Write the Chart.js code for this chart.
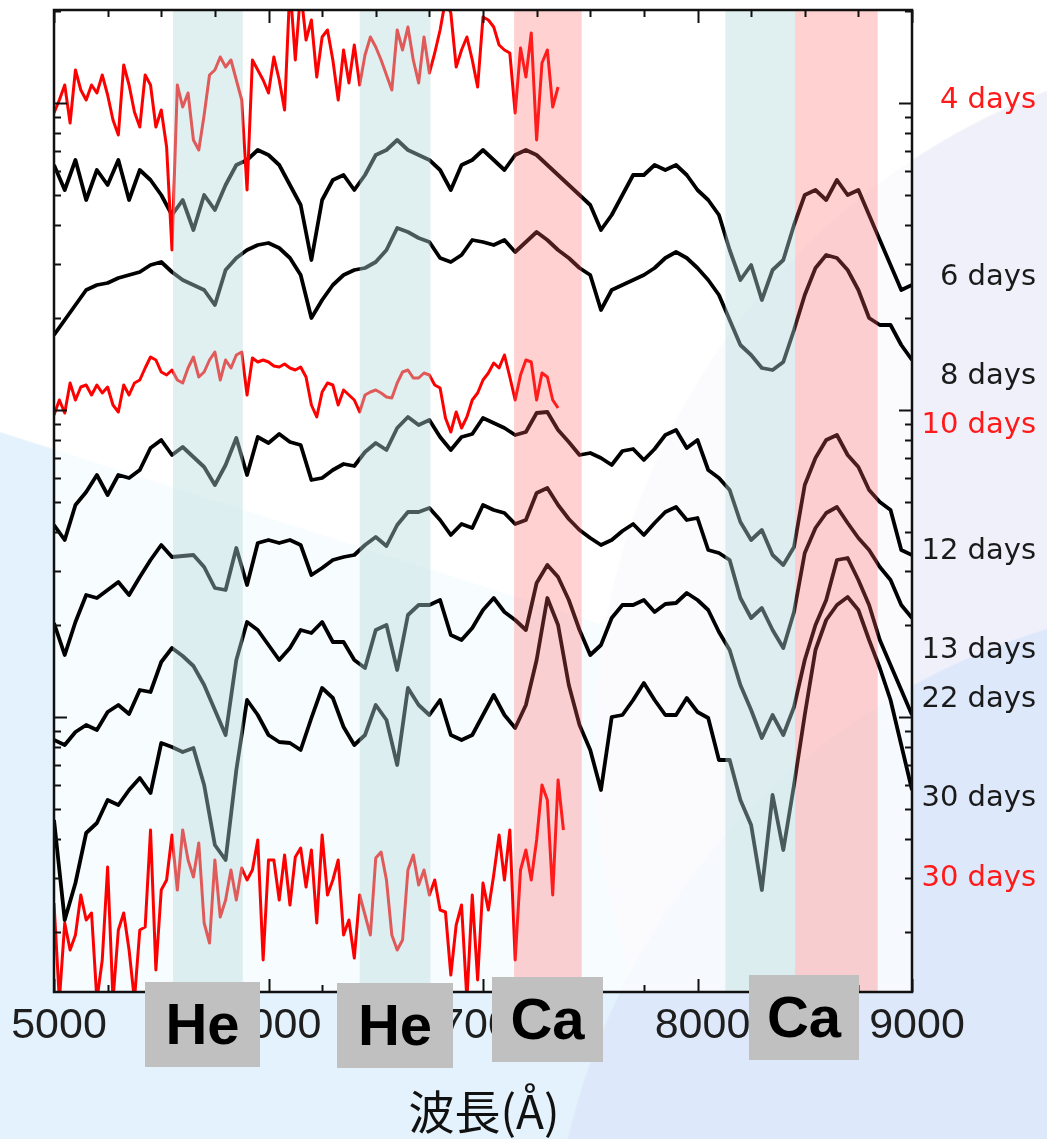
<!DOCTYPE html>
<html>
<head>
<meta charset="utf-8">
<script src="https://cdn.jsdelivr.net/npm/chart.js@4.4.1/dist/chart.umd.min.js"></script>
<style>
html,body{margin:0;padding:0;}
body{width:1047px;height:1139px;overflow:hidden;
background:
 radial-gradient(circle at 1250px 1300px, #dde9fa 0 700px, rgba(221,233,250,0) 702px),
 radial-gradient(circle at 1300px 750px, #f0f0fb 0 705px, rgba(240,240,251,0) 707px),
 linear-gradient(197.7deg, #ffffff 0 729px, #e3f2fc 731px);
}
canvas{display:block;}
</style>
</head>
<body>
<canvas id="myChart" width="1047" height="1139"></canvas>
<script>
// wavelength grids (Angstrom): black spectra every 50, red ones every 25
var gridStart = 5000;
var stepBlack = 50;
var stepRed = 25;

// relative flux, log scale with offsets (arbitrary units)
var day4 = [88.7,90.0,91.5,87.7,93.0,91.0,90.0,91.5,90.7,92.5,
 90.5,88.0,86.5,93.5,91.5,88.8,87.3,92.5,91.5,87.3,
 89.0,85.3,75.0,91.5,89.3,90.7,86.0,85.0,88.5,92.5,
 93.0,94.3,93.3,94.0,92.0,90.0,81.0,94.0,93.0,92.0,
 90.7,94.3,92.0,89.0,101.5,94.0,101.0,96.0,98.0,92.3,
 96.3,97.0,94.0,90.0,95.0,91.7,95.5,91.5,94.5,96.3,
 95.3,94.0,92.5,91.0,97.0,95.0,97.3,94.0,91.7,96.3,
 92.7,94.7,97.0,100.0,98.7,93.3,95.0,96.3,94.0,91.3,
 98.3,98.0,97.3,95.5,95.0,94.7,88.7,95.2,92.3,96.7,
 86.0,93.7,95.0,89.3,91.3];

var day6 = [83.5,81.0,84.0,80.0,83.0,81.5,84.0,80.0,83.0,82.0,
 80.5,78.5,80.0,77.0,80.5,79.0,81.5,83.5,84.0,85.0,
 84.5,83.5,81.5,79.5,74.0,80.0,82.0,82.5,81.0,82.5,
 84.5,85.0,86.0,85.0,84.5,84.0,83.0,81.0,83.5,84.0,
 85.0,84.0,83.0,84.5,85.0,84.5,83.5,82.5,81.5,80.5,
 79.5,77.0,78.5,80.5,82.5,82.5,83.5,83.0,83.5,82.5,
 81.0,80.0,78.5,75.0,72.0,73.5,70.0,73.0,74.0,77.5,
 80.5,81.0,80.0,82.0,80.5,81.0,78.5,76.0,73.5,71.0,
 71.5];

var day8 = [66.5,68.0,69.5,71.0,71.5,71.7,72.2,72.5,72.8,73.5,
 73.8,72.8,72.0,71.5,71.0,69.5,73.0,74.2,75.0,75.5,
 75.7,75.2,74.2,72.5,68.2,70.0,71.5,72.5,73.0,73.2,
 73.8,75.0,77.2,76.8,76.2,75.8,74.2,73.8,74.5,76.0,
 75.8,75.5,76.0,74.8,75.8,76.8,76.0,75.0,74.2,73.2,
 72.5,69.0,71.0,71.5,72.0,72.5,73.2,74.2,74.8,74.2,
 73.2,72.0,70.5,68.0,65.5,64.5,63.2,63.0,63.8,67.0,
 70.5,73.2,74.5,74.2,73.0,71.0,68.2,67.5,67.5,65.5,
 64.0];

var day10 = [58.5,60.0,58.7,61.7,60.0,61.3,61.5,60.5,61.5,60.7,
 61.3,59.5,58.8,61.5,60.5,61.7,62.0,63.2,64.3,64.0,
 62.8,62.5,63.0,62.0,61.7,63.2,64.3,62.3,62.8,64.0,
 64.8,62.0,64.0,63.2,64.5,64.8,60.5,64.2,63.8,64.0,
 63.8,63.4,63.3,63.6,63.2,63.0,63.3,62.3,59.5,58.3,
 60.8,61.7,61.5,59.5,61.0,60.5,60.0,58.8,60.5,60.8,
 61.0,60.7,60.3,60.2,61.7,62.8,63.0,62.2,62.2,62.7,
 62.5,61.5,61.2,58.2,56.8,58.8,57.2,58.3,60.0,60.7,
 62.0,62.7,63.7,63.2,64.5,62.3,60.0,62.5,64.0,63.8,
 60.0,62.7,62.3,60.0,59.2];

var day12 = [47.5,46.0,49.5,50.8,52.5,50.5,52.5,52.2,53.0,55.2,
 56.0,54.5,55.3,54.3,53.3,51.5,53.5,56.2,52.5,56.3,
 55.7,56.6,55.8,55.5,52.0,52.2,53.0,53.6,53.4,54.8,
 55.7,55.0,57.2,58.3,57.5,58.0,56.3,55.0,56.3,56.6,
 58.2,57.7,57.2,56.5,56.8,58.7,58.8,57.0,55.8,54.5,
 54.7,54.2,53.5,54.9,55.1,54.0,55.1,56.5,57.0,55.2,
 56.0,53.0,52.2,51.0,47.8,46.0,47.0,44.5,43.5,45.3,
 51.5,54.2,56.0,56.5,54.5,53.3,51.0,49.8,49.0,45.0,
 44.5];

var day13 = [37.7,34.5,37.8,40.5,40.2,41.0,41.8,40.5,42.3,44.0,
 45.5,44.3,44.4,44.5,43.3,41.2,41.0,45.2,41.5,45.7,
 46.0,45.7,46.0,45.5,42.5,43.2,44.0,44.3,44.5,45.5,
 46.3,45.4,47.5,48.8,48.8,49.2,48.0,46.5,47.6,47.2,
 49.5,49.0,48.7,47.6,48.0,50.7,51.2,49.5,48.1,47.0,
 46.2,45.5,46.0,46.9,47.6,46.5,47.7,48.8,49.3,48.0,
 48.2,45.0,44.7,44.0,40.2,38.2,39.2,37.0,35.2,38.8,
 44.7,47.2,48.7,49.3,47.7,46.2,45.0,43.3,42.0,39.5,
 38.2];

var day22 = [26.0,25.5,26.8,27.5,27.0,28.8,29.5,28.6,31.0,30.8,
 33.8,35.2,34.4,33.4,31.5,29.0,26.5,34.0,37.8,37.0,
 35.5,34.0,35.2,37.0,36.7,37.8,35.8,35.8,34.0,33.2,
 37.0,37.5,33.0,38.5,39.5,39.5,40.0,36.5,36.0,37.2,
 39.0,40.2,38.8,38.0,37.0,41.7,43.5,42.3,40.0,37.0,
 34.5,35.5,38.2,39.5,39.5,40.0,38.8,39.6,39.7,40.7,
 40.0,39.0,36.8,35.0,31.5,29.0,26.2,28.5,26.5,29.3,
 34.0,37.5,40.0,44.0,44.2,42.0,39.5,36.0,33.5,31.0,
 28.5];

var day30 = [18.0,8.0,11.7,16.7,17.7,20.0,19.5,21.0,22.2,20.7,
 25.7,25.3,24.8,25.2,21.5,15.5,14.0,23.0,30.0,28.5,
 26.5,25.8,25.7,25.0,28.2,31.2,30.2,27.3,25.5,26.5,
 29.5,28.0,23.5,31.2,29.5,28.5,30.0,26.5,26.0,26.5,
 28.5,30.5,28.5,27.2,29.5,34.0,40.2,37.5,31.5,27.5,
 25.0,21.0,28.3,28.5,30.0,31.7,30.0,28.5,28.5,30.2,
 28.8,28.2,24.0,24.0,20.0,17.5,11.0,20.5,15.0,21.5,
 28.5,35.0,38.0,39.5,40.3,39.0,36.0,33.2,30.0,25.5,
 21.0];

var day30red = [9.7,0.0,7.7,5.0,6.5,10.5,8.0,8.7,0.0,4.0,
 13.3,0.0,7.0,8.7,5.0,0.0,7.0,7.3,17.0,3.0,
 11.0,12.0,16.5,11.0,17.0,14.0,12.3,15.7,7.7,5.7,
 14.0,8.3,10.0,13.0,10.0,13.2,12.0,13.0,16.0,4.0,
 14.0,14.0,10.0,14.5,9.5,14.3,15.2,11.3,15.0,7.7,
 16.5,10.5,12.0,14.0,6.5,8.0,4.2,10.5,8.5,6.5,
 14.2,14.8,12.0,6.5,5.0,6.0,13.0,14.5,11.5,13.0,
 10.5,12.0,9.0,8.8,2.5,7.5,9.5,0.0,10.5,2.0,
 11.7,9.0,12.5,16.5,12.0,17.0,4.0,13.0,15.0,12.0,
 16.0,21.5,20.0,10.5,22.0,17.0];

var dayLabels = ['4 days','6 days','8 days','10 days','12 days','13 days','22 days','30 days','30 days'];
var labelLevel = [90.0, 72.3, 62.4, 57.5, 44.9, 35.0, 30.1, 20.2, 12.2];

// line bands: [from, to, kind]
var bands = [[5555,5880,'He'],[6425,6755,'He'],[7145,7460,'Ca'],[8130,8455,'He'],[8455,8840,'Ca']];
var bandBoxes = ['He','He','Ca','Ca'];

var xTickLabels = ['5000','6000','7000','8000','9000'];
var yDecades = [28.3, 59.0, 89.7, 120.4];

var red = '#ff0000', black = '#000000';

function pts(vals, step) {
  var out = [];
  for (let i = 0; i < vals.length; i++) out.push({x: gridStart + i*step, y: vals[i]});
  return out;
}

var series = [
  {v: day4, s: stepRed, c: red},
  {v: day6, s: stepBlack, c: black},
  {v: day8, s: stepBlack, c: black},
  {v: day10, s: stepRed, c: red},
  {v: day12, s: stepBlack, c: black},
  {v: day13, s: stepBlack, c: black},
  {v: day22, s: stepBlack, c: black},
  {v: day30, s: stepBlack, c: black},
  {v: day30red, s: stepRed, c: red}
];
var labelColors = [red, black, black, red, black, black, black, black, red];

var decor = {
  id: 'decor',
  beforeDatasetsDraw(chart) {
    const ctx = chart.ctx, a = chart.chartArea;
    ctx.save();
    ctx.fillStyle = 'rgba(255,255,255,0.72)';
    ctx.fillRect(a.left, a.top, a.right - a.left, a.bottom - a.top);
    ctx.restore();
  },
  afterDatasetsDraw(chart) {
    const ctx = chart.ctx, a = chart.chartArea;
    const x = chart.scales.x, y = chart.scales.y;
    ctx.save();
    // shaded bands, over the spectra
    bands.forEach(b => {
      const x0 = x.getPixelForValue(b[0]), x1 = x.getPixelForValue(b[1]);
      ctx.fillStyle = b[2] === 'He' ? 'rgba(180,218,218,0.41)' : 'rgba(255,96,96,0.29)';
      ctx.fillRect(x0, a.top, x1 - x0, a.bottom - a.top);
    });

    // ticks
    ctx.strokeStyle = '#111';
    ctx.lineWidth = 2;
    ctx.beginPath();
    for (let w = 5000; w <= 9000; w += 250) {
      const px = Math.round(x.getPixelForValue(w)) + 0.5;
      const len = (w % 1000 === 0) ? 13 : 7;
      ctx.moveTo(px, a.bottom); ctx.lineTo(px, a.bottom - len);
      ctx.moveTo(px, a.top); ctx.lineTo(px, a.top + len);
    }
    yDecades.forEach(d => {
      for (let k = 2; k <= 10; k++) {
        const v = d - 30.7 * (1 - Math.log10(k));
        if (v < y.min || v > y.max) continue;
        const py = Math.round(y.getPixelForValue(v)) + 0.5;
        const len = (k === 10) ? 13 : 7;
        ctx.moveTo(a.left, py); ctx.lineTo(a.left + len, py);
        ctx.moveTo(a.right, py); ctx.lineTo(a.right - len, py);
      }
    });
    ctx.stroke();

    // frame
    ctx.lineWidth = 2.5;
    ctx.strokeRect(a.left, a.top, a.right - a.left, a.bottom - a.top);

    // x tick labels
    ctx.fillStyle = '#1e1e1e';
    ctx.font = '43px "Liberation Sans", Arial, sans-serif';
    ctx.textAlign = 'center';
    ctx.textBaseline = 'middle';
    xTickLabels.forEach(t => {
      ctx.fillText(t, x.getPixelForValue(+t) + 5, 1026);
    });

    // day labels on the right
    ctx.font = '29px "DejaVu Sans", Verdana, sans-serif';
    ctx.textAlign = 'right';
    dayLabels.forEach((t, i) => {
      ctx.fillStyle = labelColors[i] === red ? '#ff1a1a' : '#1a1a1a';
      ctx.fillText(t, 1036, y.getPixelForValue(labelLevel[i]));
    });

    // gray element boxes
    const boxes = [[145, 982, 115, 85], [337, 983, 116, 85], [492, 977, 111, 85], [749, 975, 110, 85]];
    boxes.forEach((bx, i) => {
      ctx.fillStyle = '#c0c0c0';
      ctx.fillRect(bx[0], bx[1], bx[2], bx[3]);
      ctx.fillStyle = '#000';
      ctx.font = 'bold 58px "Liberation Sans", Arial, sans-serif';
      ctx.textAlign = 'center';
      ctx.fillText(bandBoxes[i], bx[0] + bx[2] / 2, bx[1] + bx[3] / 2 + 3);
    });

    // axis title
    ctx.fillStyle = '#111';
    ctx.font = '46px "Noto Sans CJK JP", sans-serif';
    ctx.textAlign = 'center';
    ctx.fillText('波長(Å)', 484, 1112);
    ctx.restore();
  }
};

var ctx = document.getElementById('myChart').getContext('2d');
new Chart(ctx, {
  type: 'line',
  data: {
    datasets: series.map(s => ({
      data: pts(s.v, s.s),
      borderColor: s.c,
      borderWidth: s.c === red ? 3 : 3.8,
      borderJoinStyle: 'round',
      pointRadius: 0,
      tension: 0,
      fill: false
    }))
  },
  options: {
    responsive: false,
    animation: false,
    devicePixelRatio: 1,
    layout: {padding: {left: 54, right: 135, top: 10, bottom: 147}},
    plugins: {legend: {display: false}, tooltip: {enabled: false}},
    scales: {
      x: {type: 'linear', min: 5000, max: 9000, display: false},
      y: {type: 'linear', min: 0.8, max: 99.0, display: false}
    }
  },
  plugins: [decor]
});
</script>
</body>
</html>
